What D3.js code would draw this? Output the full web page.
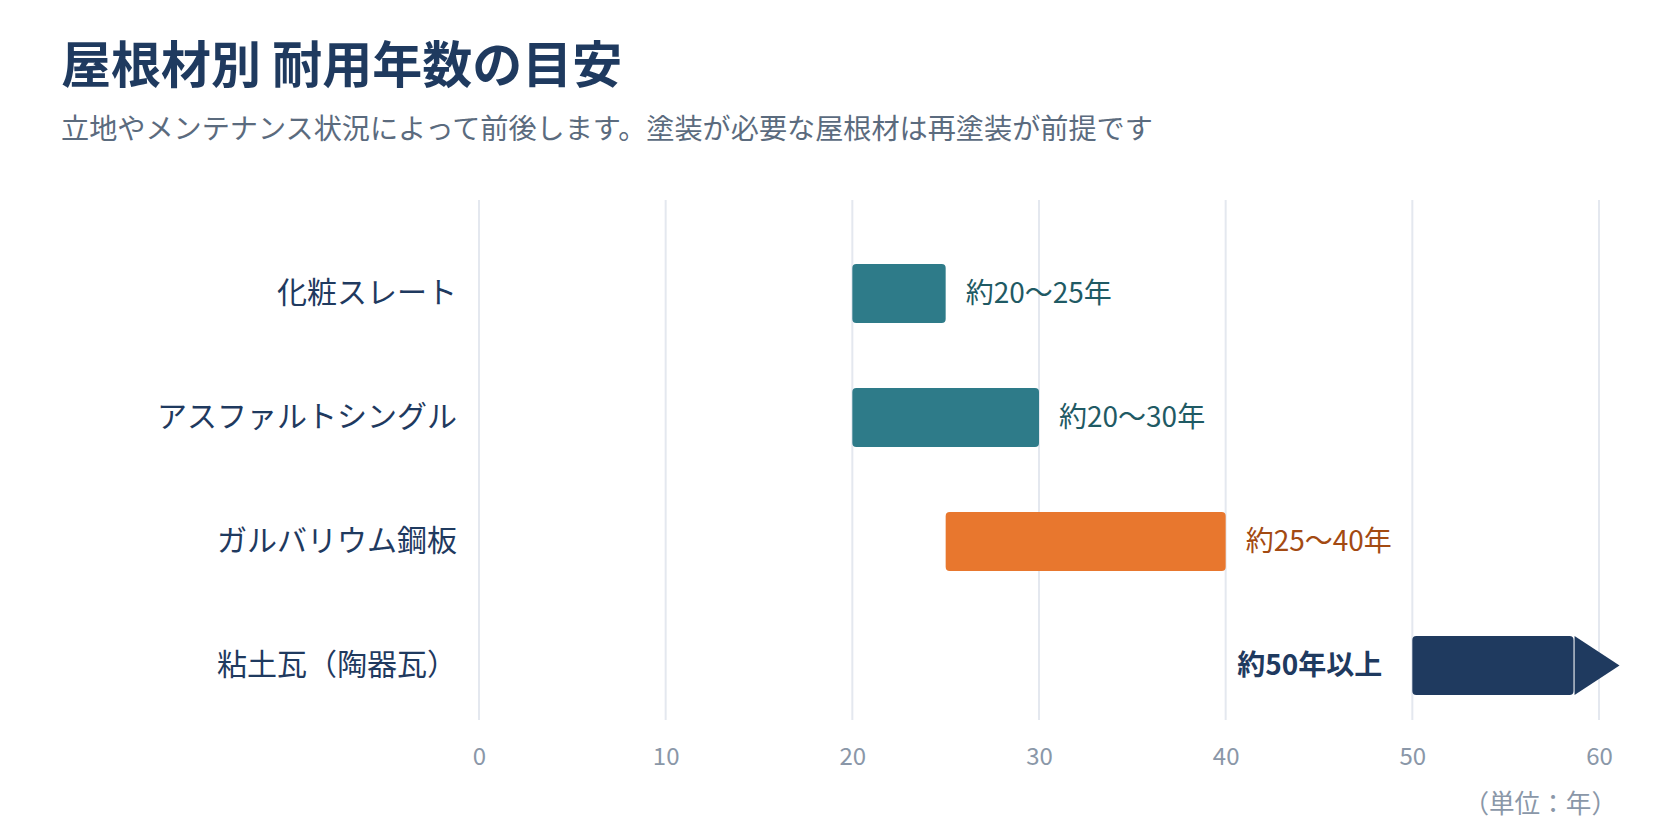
<!DOCTYPE html>
<html>
<head>
<meta charset="utf-8">
<script src="https://cdn.jsdelivr.net/npm/d3@7"></script>
<style>
  body { margin: 0; background: #fff; }
  svg { display: block; font-family: "Noto Sans CJK JP", "Noto Sans", sans-serif; }
</style>
</head>
<body>
<div id="chart"></div>
<script>
// data
var materials = ["化粧スレート", "アスファルトシングル", "ガルバリウム鋼板", "粘土瓦（陶器瓦）"];
var startYears = [20, 20, 25, 50];
var endYears = [25, 30, 40, 61.1];   // last one is open-ended (arrow tip)
var valueLabels = ["約20〜25年", "約20〜30年", "約25〜40年", "約50年以上"];
var groups = ["teal", "teal", "orange", "navy"];
var xTicks = [0, 10, 20, 30, 40, 50, 60];

var title = "屋根材別 耐用年数の目安";
var subtitle = "立地やメンテナンス状況によって前後します。塗装が必要な屋根材は再塗装が前提です";
var unitLabel = "（単位：年）";

var barColor = { teal: "#2e7b89", orange: "#e8772e", navy: "#1f3a5f" };
var textColor = { teal: "#1f5a64", orange: "#a34a12", navy: "#1f3a5f" };

var width = 1680, height = 840;
var gridTop = 200, gridBottom = 720;

var svg = d3.select("#chart")
  .append("svg")
  .attr("width", width)
  .attr("height", height)
  .attr("viewBox", [0, 0, width, height]);

// title + subtitle
svg.append("text")
  .attr("x", 61).attr("y", 83)
  .attr("font-size", 50).attr("font-weight", 700)
  .attr("fill", "#1f3a5f")
  .text(title);

svg.append("text")
  .attr("x", 61).attr("y", 139)
  .attr("font-size", 28.15)
  .attr("fill", "#5b6b7e")
  .text(subtitle);

// scales
var x = d3.scaleLinear()
  .domain([0, 60])
  .range([479, 1599]);

var y = d3.scaleBand()
  .domain(materials)
  .range([231.5, 727.5])
  .paddingInner(0.524)
  .paddingOuter(0.262);

// grid
svg.append("g")
  .selectAll("line")
  .data(xTicks)
  .join("line")
  .attr("x1", d => x(d)).attr("x2", d => x(d))
  .attr("y1", gridTop).attr("y2", gridBottom)
  .attr("stroke", "#e4e8ef")
  .attr("stroke-width", 2);

// x axis tick labels
var xAxis = svg.append("g")
  .attr("transform", "translate(0," + gridBottom + ")")
  .call(d3.axisBottom(x).tickValues(xTicks).tickSize(0).tickPadding(28));
xAxis.select(".domain").remove();
xAxis.selectAll("text")
  .attr("font-size", 24)
  .attr("font-family", "'Noto Sans CJK JP', sans-serif")
  .attr("fill", "#8a97a8");

svg.append("text")
  .attr("x", 1617).attr("y", 813)
  .attr("text-anchor", "end")
  .attr("font-size", 25.6)
  .attr("fill", "#8a97a8")
  .text(unitLabel);

// category labels
var yAxis = svg.append("g")
  .attr("transform", "translate(457,0)")
  .call(d3.axisLeft(y).tickSize(0).tickPadding(0));
yAxis.select(".domain").remove();
yAxis.selectAll("text")
  .attr("font-size", 30)
  .attr("font-family", "'Noto Sans CJK JP', sans-serif")
  .attr("fill", "#1f3a5f");

var rows = materials.map(function(m, i) {
  return { name: m, start: startYears[i], end: endYears[i], label: valueLabels[i], group: groups[i], open: i === materials.length - 1 };
});

var arrowLen = 46;

var bars = svg.append("g");
rows.forEach(function(d) {
  var y0 = y(d.name), bh = y.bandwidth();
  var x0 = x(d.start);
  var x1 = d.open ? x(d.end) - arrowLen : x(d.end);
  bars.append("rect")
    .attr("x", x0).attr("y", y0)
    .attr("width", x1 - x0).attr("height", bh)
    .attr("rx", 4)
    .attr("fill", barColor[d.group]);
  if (d.open) {
    bars.append("path")
      .attr("d", "M" + (x1 + 1) + "," + y0 + "L" + x(d.end) + "," + (y0 + bh / 2) + "L" + (x1 + 1) + "," + (y0 + bh) + "Z")
      .attr("fill", barColor[d.group]);
    svg.append("text")
      .attr("x", x0 - 30).attr("y", y0 + bh / 2)
      .attr("dy", "0.35em")
      .attr("text-anchor", "end")
      .attr("font-size", 28).attr("font-weight", 700)
      .attr("fill", textColor[d.group])
      .text(d.label);
  } else {
    svg.append("text")
      .attr("x", x1 + 20).attr("y", y0 + bh / 2)
      .attr("dy", "0.35em")
      .attr("font-size", 28)
      .attr("fill", textColor[d.group])
      .text(d.label);
  }
});
</script>
</body>
</html>
